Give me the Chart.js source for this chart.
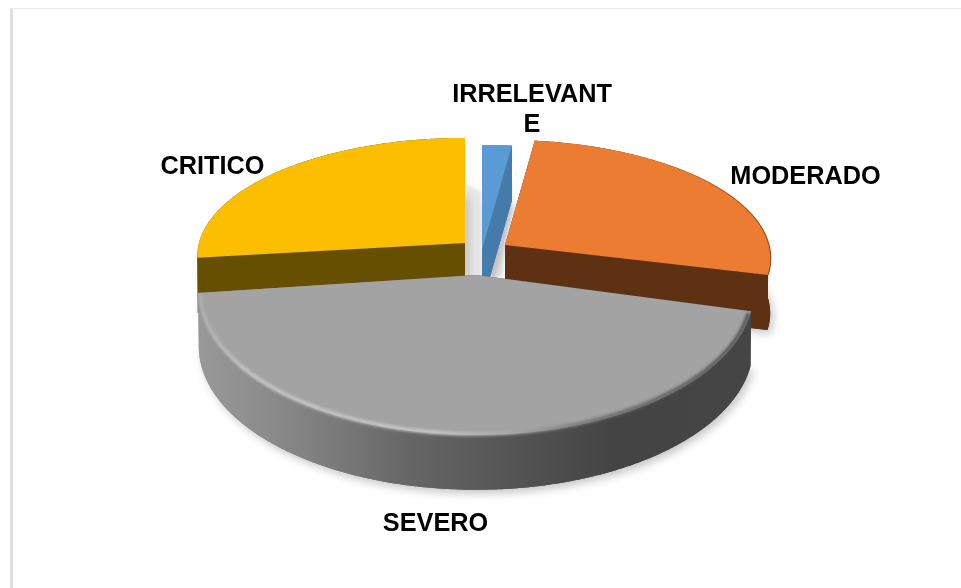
<!DOCTYPE html>
<html><head><meta charset="utf-8">
<script src="https://cdn.jsdelivr.net/npm/chart.js@4/dist/chart.umd.min.js"></script>
<style>
html,body{margin:0;padding:0;background:#fff}
#wrap{position:relative;width:961px;height:588px;overflow:hidden}
#frame{position:absolute;left:10px;top:8px;right:-5px;bottom:-5px;border-top:1px solid #e9e9e9;border-left:3px solid #e0e0e0}
canvas{position:absolute;left:0;top:0}
</style></head><body>
<div id="wrap"><div id="frame"></div><canvas id="c" width="961" height="588"></canvas></div>
<script>
const categories = ['IRRELEVANTE','MODERADO','SEVERO','CRITICO'];
const values = [2,27,44,27];
const topColors = ['#5b9bd5','#eb7c31','#a3a3a3','#fcbe00'];
const wallColors = ['#457baa','#5f3113',null,'#664f00'];

// per-slice exploded camera: apex position, radii, perspective strength
const views = [
  {x:482,y:250,rx:266,ry:117},
  {x:505,y:245,rx:264,ry:117},
  {x:476,y:275,rx:276,ry:142},
  {x:465,y:243,rx:266,ry:117}
];
const PERSPECTIVE = 0.113, DEPTH = 55;
const drawOrder = [3,0,1,2];
const labelStyle = {font:'bold 25.3px "Liberation Sans", Arial, sans-serif', color:'#000'};
const labelPlaces = [
  {lines:['IRRELEVANT','E'],x:532,y:102,lead:30},
  {lines:['MODERADO'],x:805.5,y:184,lead:0},
  {lines:['SEVERO'],x:435.5,y:531,lead:0},
  {lines:['CRITICO'],x:212.5,y:174,lead:0}
];

function project(v,a,drop,scale){
  const c=Math.cos(a), s=Math.sin(a), d=1-PERSPECTIVE*s, f=scale||1;
  return [v.x+f*v.rx*c/d, v.y+(drop||0)+f*v.ry*s/d];
}
function arcPoints(v,a0,a1,drop,scale){
  const pts=[], n=Math.max(2,Math.ceil((a1-a0)/0.01));
  for(let i=0;i<=n;i++) pts.push(project(v,a0+(a1-a0)*i/n,drop,scale));
  return pts;
}
function poly(ctx,pts){
  ctx.beginPath();
  pts.forEach((p,i)=>i?ctx.lineTo(p[0],p[1]):ctx.moveTo(p[0],p[1]));
  ctx.closePath();
}
function wallPaint(ctx,i){
  if(wallColors[i]) return wallColors[i];
  const g=ctx.createLinearGradient(199,0,752,0);
  [[0,'#989898'],[0.12,'#8c8c8c'],[0.25,'#7a7a7a'],[0.38,'#666'],[0.55,'#565656'],[0.75,'#444'],[1,'#454545']]
    .forEach(s=>g.addColorStop(s[0],s[1]));
  return g;
}
const pie3d={
  id:'pie3d',
  beforeDatasetsDraw(chart){
    const ctx=chart.ctx, arcs=chart.getDatasetMeta(0).data;
    // soft shadows in the gaps between slices
    ctx.save();
    ctx.filter='blur(1.5px)';
    ctx.fillStyle='#e6e6e6';
    poly(ctx,[[466,184],[481,192],[481,277],[466,277]]);ctx.fill();
    poly(ctx,[[516,192],[505,243],[503,277],[489,277]]);ctx.fill();
    ctx.restore();
    drawOrder.forEach(i=>{
      const el=arcs[i], v=views[i], a0=el.startAngle, a1=el.endAngle;
      const apex=[v.x,v.y], arc=arcPoints(v,a0,a1,0,1);
      const low=arcPoints(v,a0,a1,DEPTH,0.998), lowApex=[v.x,v.y+DEPTH];
      const paint=wallPaint(ctx,i);
      // underside with drop shadow
      ctx.save();
      ctx.shadowColor='rgba(0,0,0,0.22)';ctx.shadowBlur=9;ctx.shadowOffsetX=3;ctx.shadowOffsetY=4;
      ctx.fillStyle=paint;
      poly(ctx,[lowApex,...low]);ctx.fill();
      ctx.restore();
      // walls
      ctx.fillStyle=paint;
      poly(ctx,[apex,arc[0],low[0],lowApex]);ctx.fill();
      poly(ctx,[apex,arc[arc.length-1],low[low.length-1],lowApex]);ctx.fill();
      poly(ctx,[...arc,...low.slice().reverse()]);ctx.fill();
      // top face
      ctx.fillStyle=el.options.backgroundColor;
      poly(ctx,[apex,...arc]);ctx.fill();
      if(i===1){
        // darker rim only on the far right of the orange slice
        ctx.save();
        const edge=ctx.createLinearGradient(640,0,770,0);
        edge.addColorStop(0,'rgba(140,75,30,0)');edge.addColorStop(1,'rgba(140,75,30,0.9)');
        ctx.strokeStyle=edge;ctx.lineWidth=1.2;
        ctx.beginPath();arc.forEach((p,j)=>j?ctx.lineTo(p[0],p[1]):ctx.moveTo(p[0],p[1]));ctx.stroke();
        ctx.restore();
      }
      if(i===2){
        // rounded bevel along the front rim
        ctx.save();
        const rim=ctx.createLinearGradient(199,0,752,0);
        [[0,'#adadad'],[0.08,'#c6c6c6'],[0.42,'#cacaca'],[0.58,'#a3a3a3'],[0.72,'#6c6c6c'],[1,'#4c4c4c']]
          .forEach(s=>rim.addColorStop(s[0],s[1]));
        ctx.strokeStyle=rim;ctx.lineWidth=3.5;ctx.filter='blur(1.6px)';
        const inner=arcPoints(v,a0+0.012,a1-0.006,0,0.993);
        ctx.beginPath();inner.forEach((p,j)=>j?ctx.lineTo(p[0],p[1]):ctx.moveTo(p[0],p[1]));ctx.stroke();
        ctx.restore();
      }
    });
    // labels
    ctx.save();
    ctx.font=labelStyle.font;ctx.fillStyle=labelStyle.color;ctx.textAlign='center';ctx.textBaseline='alphabetic';
    labelPlaces.forEach(l=>l.lines.forEach((t,j)=>ctx.fillText(t,l.x,l.y+j*l.lead)));
    ctx.restore();
    return false;
  }
};
new Chart(document.getElementById('c'),{
  type:'pie',
  data:{labels:categories,datasets:[{data:values,backgroundColor:topColors,borderWidth:0}]},
  options:{responsive:false,animation:false,events:[],
    plugins:{legend:{display:false},tooltip:{enabled:false}}},
  plugins:[pie3d]
});
</script>
</body></html>
